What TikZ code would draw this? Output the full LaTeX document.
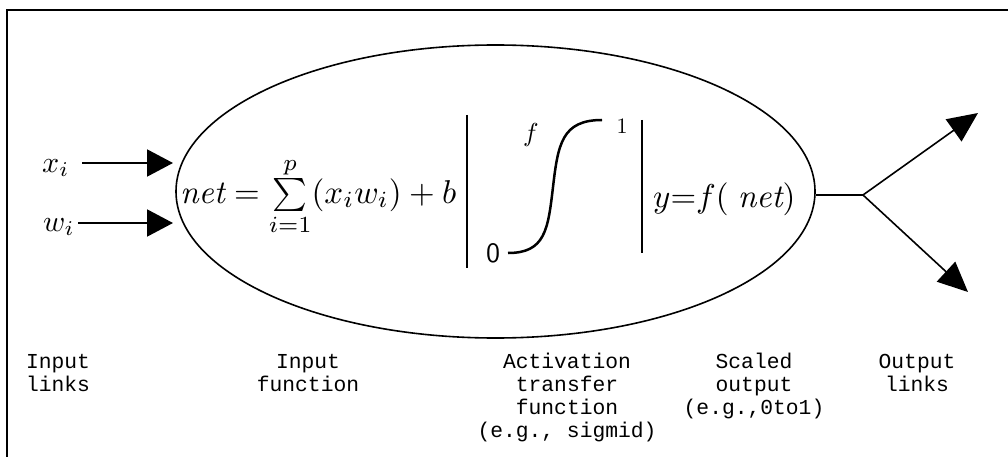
\documentclass[tikz,border=0pt]{standalone}
\usepackage{graphicx}
\usepackage{fontspec}
\newfontfamily\labelfont{Liberation Mono}
\usetikzlibrary{arrows.meta,shapes.geometric}
\newcommand{\mybig}[2]{\scalebox{#1}{#2}}
\begin{document}
\begin{tikzpicture}[x=1pt,y=-1pt,
  lbl/.style={font=\labelfont\fontsize{21.3}{23}\selectfont, align=center, anchor=base, inner sep=0pt},
  inarrow/.style={line width=2pt,-{Triangle[length=26pt,width=27pt]}},
  outarrow/.style={line width=1.6pt,-{Triangle[length=30pt,width=27pt]}},
  mathtxt/.style={inner sep=0pt},
]
\useasboundingbox (0,0) rectangle (1008,457);
\draw[line width=2pt] (7,457) -- (7,10) -- (1008,10);

% neuron body
\node[draw, line width=1.6pt, ellipse, minimum width=639pt, minimum height=293pt, inner sep=0pt] (neuron) at (495.5,191.5) {};

% inputs
\node[mathtxt, anchor=base west] (xi) at (42,172) {\mybig{3}{$x_i$}};
\node[mathtxt, anchor=base west] (wi) at (43,231) {\mybig{3}{$w_i$}};
\coordinate (xs) at (82,163);
\coordinate (xt) at (173,163);
\coordinate (ws) at (78,223);
\coordinate (wt) at (173,223);
\draw[inarrow] (xs) -- (xt);
\draw[inarrow] (ws) -- (wt);

% input function
\node[mathtxt, anchor=base west] (netf) at (180,203) {\mybig{3.3}{$\mathit{net} = \sum\limits_{i=1}^{p}(x_i w_i) + b$}};

% activation
\draw[line width=2pt] (467,115) -- (467,268);
\draw[line width=2pt] (642,120) -- (642,253);
\draw[line width=2.5pt] (508,253) .. controls (545,253) and (548,230) .. (553,187)
  .. controls (558,144) and (562,120) .. (602,120);
\node[inner sep=0pt] (zero) at (493,253) {\mybig{2.8}{\sffamily 0}};
\node[inner sep=0pt] (one) at (622,126) {\mybig{2.2}{1}};
\node[inner sep=0pt] (fl) at (531,135) {\mybig{2.6}{$f$}};

% output
\node[mathtxt, anchor=base west] (yf) at (653,207) {\mybig{3.3}{$y{=}f(\;\mathit{net})$}};
\coordinate (jn) at (863,195);
\coordinate (o1) at (978,113);
\coordinate (o2) at (968,292);
\draw[line width=1.6pt] (neuron.east |- jn) -- (jn);
\draw[outarrow] (jn) -- (o1);
\draw[outarrow] (jn) -- (o2);

% labels (anchor base = baseline of last line)
\node[lbl] (l1) at (58,391) {Input\\links};
\node[lbl] (l2) at (308,391) {Input\\function};
\node[lbl] (l3) at (567,437) {Activation\\transfer\\function\\(e.g., sigmid)};
\node[lbl] (l4) at (754,414) {Scaled\\output\\(e.g.,0to1)};
\node[lbl] (l5) at (917,391) {Output\\links};
\end{tikzpicture}
\end{document}
